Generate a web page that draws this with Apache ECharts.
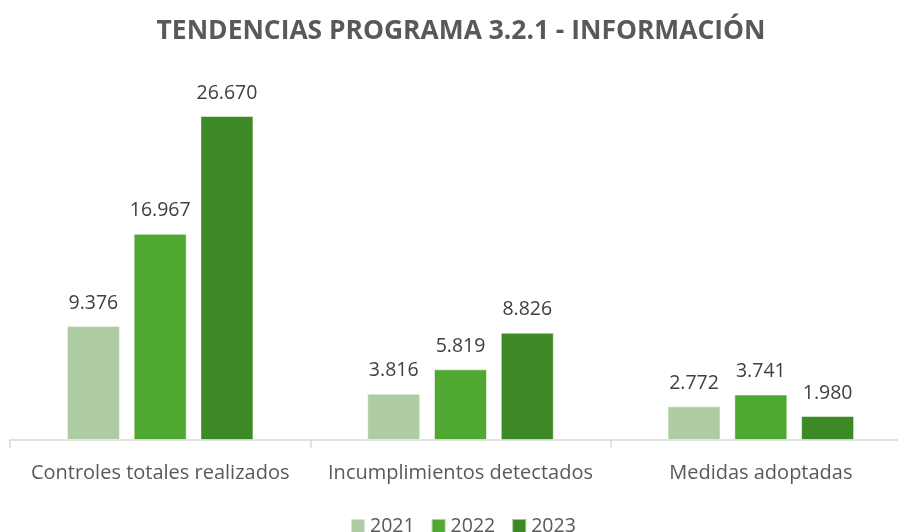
<!DOCTYPE html>
<html>
<head>
<meta charset="utf-8">
<script src="https://cdn.jsdelivr.net/npm/echarts@6/dist/echarts.min.js"></script>
<style>
  html, body { margin: 0; padding: 0; background: #fff; overflow: hidden; }
  #main { width: 930px; height: 532px; }
</style>
</head>
<body>
<div id="main"></div>
<script>
var categories = ["Controles totales realizados", "Incumplimientos detectados", "Medidas adoptadas"];
var years = ["2021", "2022", "2023"];
var values2021 = [9376, 3816, 2772];
var values2022 = [16967, 5819, 3741];
var values2023 = [26670, 8826, 1980];
var colors = ["#adcca3", "#4fa831", "#3d8926"];

var chartDom = document.getElementById("main");
var myChart = echarts.init(chartDom);
var option;

var font = "'Open Sans', 'Noto Sans', sans-serif";

function fmt(v) {
  return String(v).replace(/\B(?=(\d{3})+(?!\d))/g, ".");
}

function makeSeries(name, data, color) {
  return {
    name: name,
    type: "bar",
    data: data,
    barWidth: 53,
    barGap: "26%",
    itemStyle: { color: color, borderColor: "rgba(255,255,255,0.5)", borderWidth: 1 },
    label: {
      show: true,
      position: "top",
      distance: 13,
      fontFamily: font,
      fontSize: 19.5,
      color: "#404040",
      formatter: function (p) { return fmt(p.value); }
    }
  };
}

option = {
  animation: false,
  title: {
    text: "TENDENCIAS PROGRAMA 3.2.1 - INFORMACIÓN",
    left: 456,
    top: 13,
    textAlign: "center",
    textStyle: { fontFamily: font, fontSize: 26.4, fontWeight: "bold", color: "#595959" }
  },
  legend: {
    data: years,
    left: 345,
    bottom: -9,
    icon: "rect",
    itemWidth: 14,
    itemHeight: 14,
    itemGap: 16,
    textStyle: { fontFamily: font, fontSize: 19.5, color: "#595959" }
  },
  grid: { left: 10, top: 75.5, width: 901, height: 364.5, containLabel: false },
  xAxis: {
    type: "category",
    data: categories,
    axisLine: { lineStyle: { color: "#d9d9d9", width: 1.5 } },
    axisTick: { show: true, length: 8, lineStyle: { color: "#d9d9d9", width: 1.5 } },
    axisLabel: { interval: 0, fontFamily: font, fontSize: 20, color: "#595959", margin: 23 }
  },
  yAxis: {
    type: "value",
    min: 0,
    max: 30000,
    show: false,
    splitLine: { show: false }
  },
  series: [
    makeSeries(years[0], values2021, colors[0]),
    makeSeries(years[1], values2022, colors[1]),
    makeSeries(years[2], values2023, colors[2])
  ]
};

option && myChart.setOption(option);
</script>
</body>
</html>
